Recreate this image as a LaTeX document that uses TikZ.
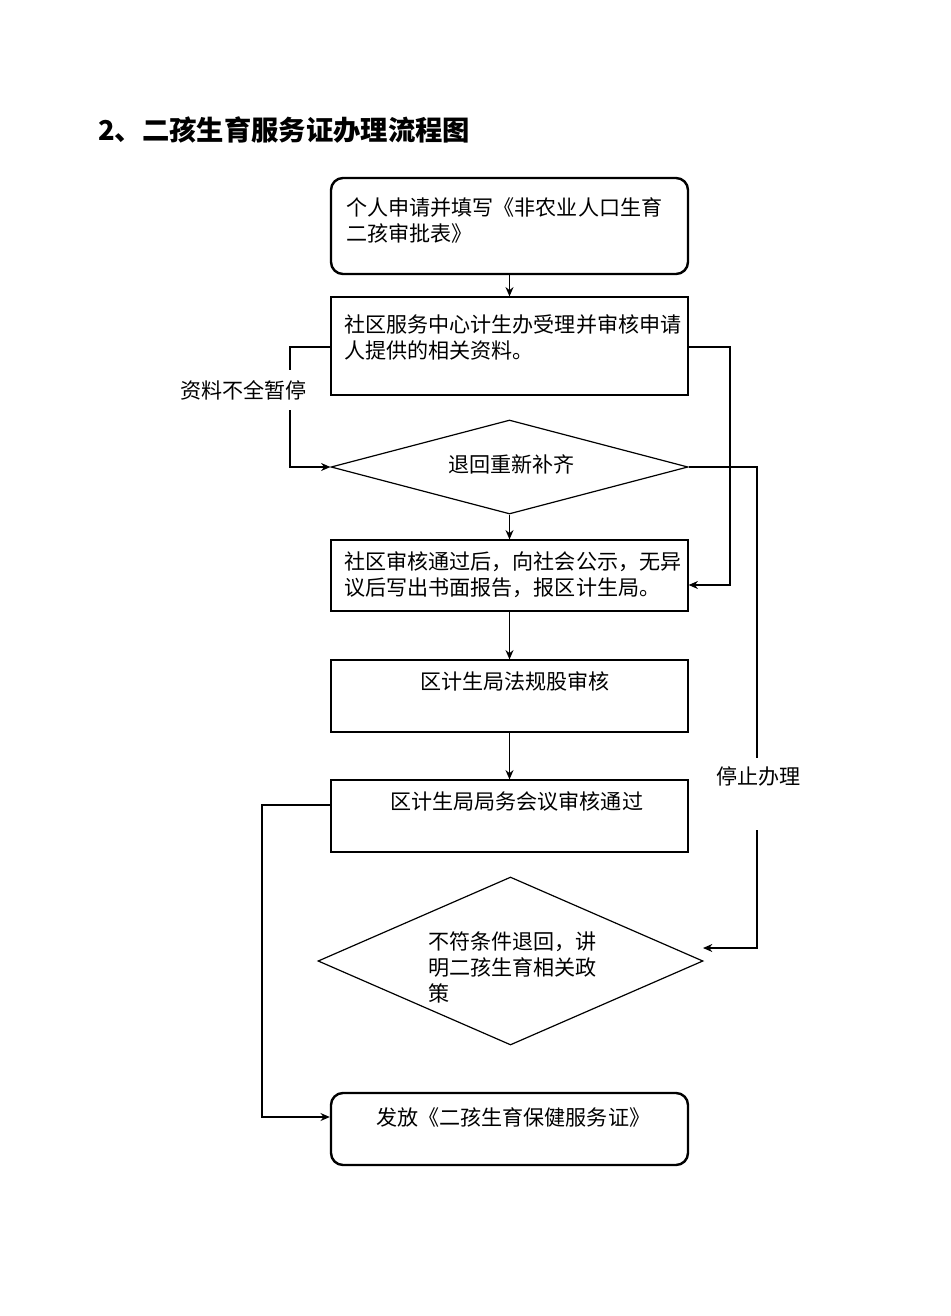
\documentclass[tikz,border=0pt]{standalone}
\usepackage{fontspec}
\newfontfamily\cjk{Noto Sans CJK SC}
\usetikzlibrary{shapes.geometric,arrows.meta}
\begin{document}
\begin{tikzpicture}[x=0.75pt,y=-0.75pt,
  box/.style={draw,line width=0.9pt,minimum width=267.75pt,inner sep=0pt},
  rbox/.style={box,rounded corners=9pt,line width=1.8pt},
  dia/.style={draw,line width=0.9pt,diamond,inner sep=0pt},
  txt/.style={font=\cjk\fontsize{15.8pt}{19.5pt}\selectfont,anchor=west,align=left,inner sep=0pt},
  ln/.style={line width=0.9pt},
  arr/.style={ln,-{Stealth[length=7pt,width=6pt]}}]
\useasboundingbox (0,0) rectangle (950,1316);
\node[font=\cjk\bfseries\fontsize{20.5pt}{22pt}\selectfont,anchor=west,inner sep=0pt] (title) at (98,130) {2、二孩生育服务证办理流程图};
\node[rbox,minimum height=72pt] (b1) at (509.5,226) {};
\node[txt] (t1) at (346,220) {个人申请并填写《非农业人口生育\\二孩审批表》};
\node[box,minimum height=73.5pt] (b2) at (509.5,346) {};
\node[txt] (t2) at (344,337) {社区服务中心计生办受理并审核申请\\人提供的相关资料。};
\node[dia,minimum width=267.75pt,minimum height=70.5pt] (d1) at (509.5,467) {};
\node[txt] (td1) at (448,464) {退回重新补齐};
\node[box,minimum height=53.25pt] (b3) at (509.5,575.5) {};
\node[txt] (t3) at (344,575) {社区审核通过后，向社会公示，无异\\议后写出书面报告，报区计生局。};
\node[box,minimum height=54pt] (b4) at (509.5,696) {};
\node[txt] (t4) at (420,681) {区计生局法规股审核};
\node[box,minimum height=54pt] (b5) at (509.5,816) {};
\node[txt] (t5) at (390,801) {区计生局局务会议审核通过};
\node[dia,minimum width=288.75pt,minimum height=126pt] (d2) at (510.5,961) {};
\node[txt] (td2) at (428,967) {不符条件退回，讲\\明二孩生育相关政\\策};
\node[rbox,minimum height=54pt] (b6) at (509.5,1129) {};
\node[txt] (t6) at (376,1117) {发放《二孩生育保健服务证》};
\node[txt] (l1) at (180,390) {资料不全暂停};
\node[txt] (l2) at (716,776) {停止办理};
\coordinate (c1) at (290,370); \coordinate (c2) at (290,410);
\coordinate (c3) at (757,758); \coordinate (c4) at (757,830);
\draw[arr] (b1.south) -- (b2.north);
\draw[ln] (b2.west |- 0,347) -| (c1);
\draw[arr] (c2) |- (d1.west);
\draw[arr] (b2.east |- 0,347) -| (730,585) -- (b3.east |- 0,585);
\draw[arr] (d1.south) -- (b3.north);
\draw[arr] (b3.south) -- (b4.north);
\draw[arr] (b4.south) -- (b5.north);
\draw[ln] (d1.east) -| (c3);
\draw[arr] (c4) |- (703,948);
\draw[arr] (b5.west |- 0,805) -| (262,1117) -- (b6.west |- 0,1117);
\end{tikzpicture}
\end{document}
